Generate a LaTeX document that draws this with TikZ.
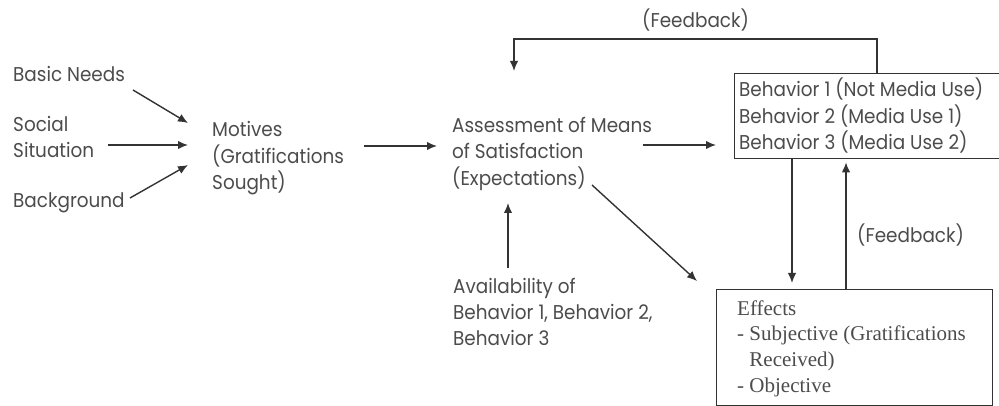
\documentclass[tikz,border=0pt]{standalone}
\usepackage{fontspec}
\setmainfont{Poppins}[FakeStretch=0.92]
\newfontfamily\timesface{Liberation Serif}
\usetikzlibrary{arrows.meta}
\definecolor{ink}{HTML}{333333}
\definecolor{txt}{HTML}{4C4C4C}
% left-aligned block whose baseline is that of its first line
\newcommand\stack[1]{\begin{tabular}[t]{@{}l@{}}#1\end{tabular}}
\begin{document}
\begin{tikzpicture}[x=1pt,y=-1pt,
  lbl/.style={text=txt, align=left, inner sep=0pt, anchor=base west,
    font=\fontsize{20}{26}\selectfont},
  serif/.style={lbl, font=\timesface\fontsize{21}{25.7}\selectfont},
  arr/.style={draw=ink, line width=1.4pt, -{Latex[length=10pt,width=8.5pt]}},
  frame/.style={draw=ink, line width=1.4pt, inner sep=0pt, anchor=north west}]
\useasboundingbox (0,0) rectangle (999,406);

% text blocks
\node[lbl] (needs)   at (13,82)  {Basic Needs};
\node[lbl] (social)  at (13,132) {\stack{Social\\Situation}};
\node[lbl] (backg)   at (13,208) {Background};
\node[lbl] (motives) at (212,137) {\stack{Motives\\(Gratifications\\Sought)}};
\node[lbl] (assess)  at (452,133) {\stack{Assessment of Means\\of Satisfaction\\(Expectations)}};
\node[lbl] (avail)   at (453,294) {\stack{Availability of\\Behavior 1, Behavior 2,\\Behavior 3}};
\node[lbl] (fbtop)   at (642,28)  {(Feedback)};
\node[lbl] (fbright) at (857,243) {(Feedback)};

% boxes
\node[frame, minimum width=272, minimum height=85] (behav) at (734,73) {};
\node[lbl] (behavtxt) at (739,97)
  {\stack{Behavior 1 (Not Media Use)\\Behavior 2 (Media Use 1)\\Behavior 3 (Media Use 2)}};
\node[frame, minimum width=276, minimum height=116] (effects) at (716,289) {};
\node[serif] (effectstxt) at (737,315)
  {\stack{Effects\\- Subjective (Gratifications\\\phantom{- }Received)\\- Objective}};

% connector end points
\coordinate (needsout)  at (133,90);
\coordinate (needsin)   at (188,123);
\coordinate (socialout) at (108,145);
\coordinate (socialin)  at (188,145);
\coordinate (backgout)  at (130,198);
\coordinate (backgin)   at (188,165);
\coordinate (motout)    at (364,146);
\coordinate (motin)     at (437,146);
\coordinate (assout)    at (643,145);
\coordinate (assin)     at (716,145);
\coordinate (diagout)   at (592,185);
\coordinate (diagin)    at (697,281);
\coordinate (availout)  at (508,268);
\coordinate (availin)   at (508,203);
\coordinate (fbstart)   at ([xshift=143pt]behav.north west);
\coordinate (fbend)     at (514,71);
\coordinate (downout)   at ([xshift=58pt]behav.south west);
\coordinate (downin)    at ([xshift=76pt,yshift=6pt]effects.north west);
\coordinate (upout)     at ([xshift=130pt]effects.north west);
\coordinate (upin)      at ([xshift=112pt,yshift=-3pt]behav.south west);

% connectors
\draw[arr] (needsout) -- (needsin);
\draw[arr] (socialout) -- (socialin);
\draw[arr] (backgout) -- (backgin);
\draw[arr] (motout) -- (motin);
\draw[arr] (assout) -- (assin);
\draw[arr] (diagout) -- (diagin);
\draw[arr] (availout) -- (availin);
\draw[arr] (fbstart) -- (fbstart |- 0,39) -- (fbend |- 0,39) -- (fbend);
\draw[arr] (downout) -- (downin);
\draw[arr] (upout) -- (upin);
\end{tikzpicture}
\end{document}
